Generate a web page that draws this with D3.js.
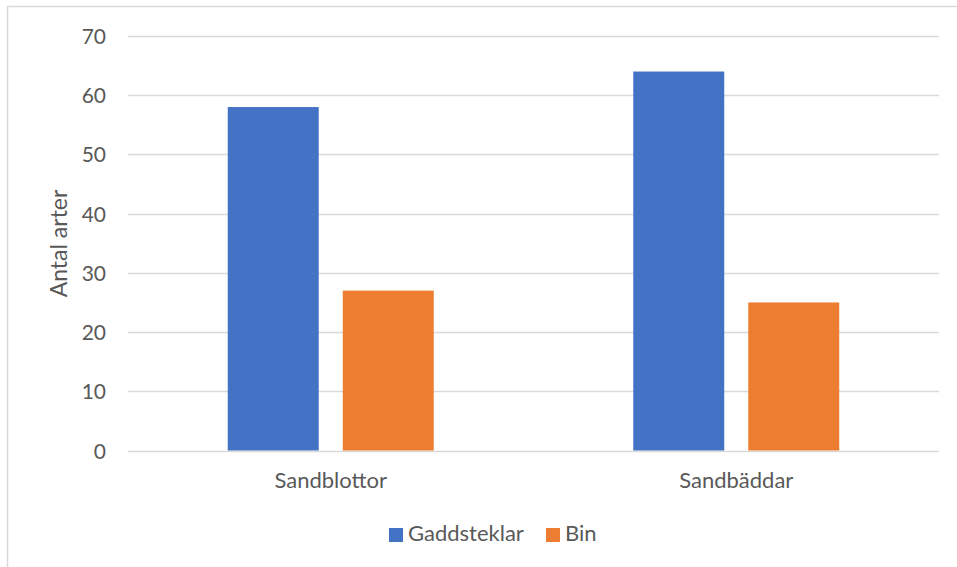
<!DOCTYPE html>
<html><head><meta charset="utf-8">
<script src="https://cdn.jsdelivr.net/npm/d3@7"></script>
<style>body{margin:0;background:#fff;} text{font-family:Lato,sans-serif;}</style>
</head><body>
<svg id="c" width="957" height="567"></svg>
<script>
const categories = ["Sandblottor", "Sandbäddar"];
const seriesNames = ["Gaddsteklar", "Bin"];
const gaddsteklar = [58, 64];
const bin = [27, 25];
const yTicks = [0, 10, 20, 30, 40, 50, 60, 70];
const colors = ["#4472C4", "#ED7D31"];

const svg = d3.select("#c");
svg.append("rect").attr("x", 7.5).attr("y", 6.5).attr("width", 960).attr("height", 570)
  .attr("fill", "#fff").attr("stroke", "#d9d9d9").attr("stroke-width", 1.5);

const pLeft = 128, pRight = 939, pTop = 36, pBottom = 450.5;
const x0 = d3.scaleBand().domain(categories).range([pLeft, pRight]).paddingInner(0.492).paddingOuter(0.246);
const x1 = d3.scaleBand().domain(seriesNames).range([0, x0.bandwidth()]).paddingInner(0.209);
const y = d3.scaleLinear().domain([0, 70]).range([pBottom, pTop]);

svg.append("g").selectAll("line").data(yTicks).join("line")
  .attr("x1", pLeft).attr("x2", pRight).attr("y1", d => Math.round(y(d)) + 0.5).attr("y2", d => Math.round(y(d)) + 0.5)
  .attr("stroke", "#d9d9d9").attr("stroke-width", 1.3);

const yAxis = d3.axisLeft(y).tickValues(yTicks).tickSize(0).tickPadding(0);
const ya = svg.append("g").attr("transform", `translate(106,0)`).call(yAxis);
ya.select(".domain").remove();
ya.selectAll("text").attr("fill", "#595959").style("font-size", "21px").style("font-family", "Lato").attr("dy", "0.36em");

const series = [gaddsteklar, bin];
categories.forEach((c, i) => {
  seriesNames.forEach((s, j) => {
    svg.append("rect")
      .attr("x", x0(c) + x1(s)).attr("width", x1.bandwidth())
      .attr("y", y(series[j][i])).attr("height", y(0) - y(series[j][i]))
      .attr("fill", colors[j]);
  });
});

const xAxis = d3.axisBottom(x0).tickSize(0).tickPadding(0);
const xa = svg.append("g").attr("transform", `translate(0,${pBottom})`).call(xAxis);
xa.select(".domain").remove();
xa.selectAll("text").attr("fill", "#595959").style("font-size", "22px").style("font-family", "Lato").attr("dy", "0").attr("y", 37);

svg.append("text").attr("transform", "translate(66.5,243.5) rotate(-90)")
  .attr("text-anchor", "middle").attr("fill", "#595959").style("font-size", "23px").text("Antal arter");

const legX = [389, 546];
seriesNames.forEach((s, j) => {
  svg.append("rect").attr("x", legX[j]).attr("y", 528).attr("width", 14).attr("height", 14).attr("fill", colors[j]);
  svg.append("text").attr("x", legX[j] + 19).attr("y", 541).attr("fill", "#595959").style("font-size", "22px").text(s);
});
</script>
</body></html>
